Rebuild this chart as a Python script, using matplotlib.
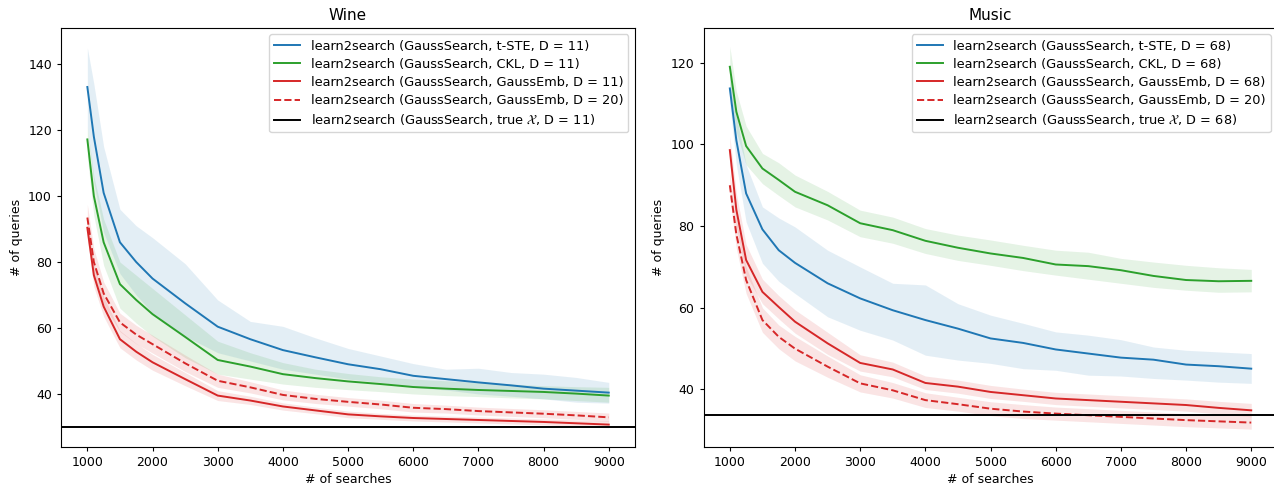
import numpy as np
import matplotlib
matplotlib.use("Agg")
import matplotlib.pyplot as plt

# %% Data
searches = [1000, 1100, 1250, 1500, 1750, 2000, 2500, 3000, 3500, 4000,
            4500, 5000, 5500, 6000, 6500, 7000, 7500, 8000, 8500, 9000]

# Wine, D = 11
wine_tste = [133.1, 118, 101, 86, 80, 75, 67.5, 60.4, 56.6, 53.3,
             51.1, 49.0, 47.5, 45.5, 44.5, 43.5, 42.6, 41.6, 41.0, 40.4]
wine_tste_hi = [145, 134, 115, 96, 91, 87.4, 79.5, 68.5, 62, 60.5,
                57, 53.8, 51.5, 49.2, 47.5, 47.8, 46.5, 46, 45, 43.5]
wine_tste_lo = [121, 104, 89, 76.5, 70, 64.5, 57.5, 52.5, 50, 47.5,
                46, 44.5, 43.5, 42, 41.2, 40, 39.3, 38.5, 37.5, 37.2]

wine_ckl = [117.2, 100, 86, 73.3, 68.5, 64.2, 57.3, 50.3, 48.3, 46.0,
            44.8, 43.8, 43.0, 42.1, 41.6, 41.2, 40.9, 40.6, 40.1, 39.5]
wine_ckl_hi = [121, 106, 93, 80, 76, 72, 64, 56, 52.5, 49.5,
               47.5, 46.2, 45.2, 44.5, 44, 43.5, 43, 42.5, 42.2, 42]
wine_ckl_lo = [112, 94, 79, 66, 61.5, 57.5, 51, 46, 44.5, 43,
               42, 41.3, 40.7, 40, 39.5, 39.2, 38.8, 38.5, 38, 37.5]

wine_gemb = [90.4, 76, 66.5, 56.6, 52.8, 49.6, 44.5, 39.5, 38.0, 36.2,
             35.0, 33.8, 33.2, 32.7, 32.4, 32.1, 31.8, 31.5, 31.1, 30.7]
wine_gemb_hi = [94, 79.5, 69.5, 59.2, 55.3, 52, 46.5, 41, 39.3, 37.3,
                36, 34.8, 34.1, 33.6, 33.3, 33, 32.7, 32.4, 32.1, 31.8]
wine_gemb_lo = [87, 72.5, 63.5, 54, 50.3, 47.2, 42.5, 38, 36.8, 35.1,
                34, 32.8, 32.3, 31.8, 31.5, 31.2, 30.9, 30.6, 30.2, 29.7]

wine_gemb20 = [93.5, 80, 70.5, 61.7, 58, 55.1, 49.3, 44.0, 42.0, 39.7,
               38.5, 37.6, 36.8, 35.8, 35.4, 34.8, 34.4, 34.0, 33.5, 32.9]
wine_gemb20_hi = [97.5, 84, 74, 64.5, 60.8, 57.8, 51.8, 46, 43.7, 41.2,
                  39.9, 38.9, 38.1, 37.1, 36.6, 36, 35.6, 35.2, 34.7, 34.2]
wine_gemb20_lo = [89.5, 76, 67, 58.9, 55.2, 52.4, 46.8, 42, 40.3, 38.2,
                  37.1, 36.3, 35.5, 34.5, 34.2, 33.6, 33.2, 32.8, 32.3, 31.6]

wine_true = 30.0

# Music, D = 68
music_tste = [113.7, 101, 88, 79.2, 74.1, 71.0, 66.0, 62.3, 59.4, 57.0,
              54.9, 52.5, 51.4, 49.8, 48.8, 47.8, 47.3, 46.1, 45.7, 45.1]
music_tste_hi = [117, 107, 95, 84.7, 82, 79.8, 74.1, 70, 66, 65.6,
                 61, 58.2, 56.2, 54.1, 53.3, 52.2, 50.4, 49.6, 49.2, 48.8]
music_tste_lo = [110, 95, 81, 70.9, 66.5, 63.5, 57.8, 54.5, 52.1, 48.4,
                 47.2, 46.4, 45.1, 44.7, 43.5, 43.3, 42.7, 42.3, 41.8, 41.5]

music_ckl = [119, 108, 99.6, 94.1, 91.3, 88.4, 85.1, 80.7, 79.0, 76.4,
             74.7, 73.3, 72.2, 70.6, 70.2, 69.2, 67.8, 66.8, 66.5, 66.6]
music_ckl_hi = [124, 113, 104.5, 97.8, 95.5, 92.5, 88.5, 83.9, 82.2, 79.4,
                77.8, 76.6, 75.3, 74.1, 73.6, 72.1, 71.2, 70.4, 69.8, 69.4]
music_ckl_lo = [114, 103, 95, 90.4, 87.5, 84.7, 81.5, 77.4, 75.8, 73.3,
                71.6, 70.4, 69.1, 68, 67, 66, 65, 64.3, 63.8, 63.9]

music_gemb = [98.6, 84, 71.7, 63.9, 60.2, 56.6, 51.3, 46.5, 44.9, 41.6,
              40.7, 39.4, 38.6, 37.8, 37.4, 37.0, 36.6, 36.2, 35.5, 34.9]
music_gemb_hi = [102, 88, 75.5, 67, 63, 59.5, 54, 48.5, 46.7, 43.3,
                 42.3, 41, 40.1, 39.3, 38.9, 38.5, 38.1, 37.7, 37.1, 36.6]
music_gemb_lo = [95, 80, 68, 61, 57.3, 53.8, 48.6, 44.5, 43.1, 40,
                 39.1, 37.8, 37.1, 36.3, 35.9, 35.5, 35.1, 34.7, 34, 33.3]

music_gemb20 = [90.0, 78, 66.8, 57.0, 52.9, 50.0, 45.6, 41.5, 39.8, 37.4,
                36.4, 35.3, 34.6, 34.1, 33.7, 33.3, 32.9, 32.5, 32.2, 31.9]
music_gemb20_hi = [93, 81.5, 70, 60, 55.8, 53, 48.2, 43.6, 41.7, 39.2,
                   38.1, 37, 36.3, 35.7, 35.3, 34.9, 34.5, 34.1, 33.8, 33.5]
music_gemb20_lo = [87, 74.5, 63.5, 54, 50, 47, 43, 39.4, 37.9, 35.6,
                   34.7, 33.6, 32.9, 32.5, 32.1, 31.7, 31.3, 30.9, 30.6, 30.3]

music_true = 33.7

plt.rcParams['font.size'] = 9
plt.rcParams['xtick.major.size'] = 3.2
plt.rcParams['ytick.major.size'] = 3.2


# %% Plot
def panel(ax, title, dim, series, true_val):
    for (mean, lo, hi, color, ls, lbl) in series:
        ax.fill_between(searches, lo, hi, color=color, alpha=0.12, linewidth=0)
        ax.plot(searches, mean, color=color, linestyle=ls, linewidth=1.4, label=lbl)
    ax.axhline(true_val, color='black', linewidth=1.4,
               label=r'learn2search (GaussSearch, true $\mathcal{X}$, D = %d)' % dim)
    ax.set_title(title, fontsize=11)
    ax.set_xlabel('# of searches', labelpad=3)
    ax.set_ylabel('# of queries')
    ax.set_xticks(range(1000, 9001, 1000))
    ax.legend(loc='upper right', fontsize=9.3, labelspacing=0.4)


fig = plt.figure(figsize=(12.74, 4.84), dpi=100)
ax1 = fig.add_axes([0.0481, 0.0771, 0.4502, 0.8651])
ax2 = fig.add_axes([0.5524, 0.0771, 0.4502, 0.8651])

panel(ax1, 'Wine', 11, [
    (wine_tste, wine_tste_lo, wine_tste_hi, 'tab:blue', '-', 'learn2search (GaussSearch, t-STE, D = 11)'),
    (wine_ckl, wine_ckl_lo, wine_ckl_hi, 'tab:green', '-', 'learn2search (GaussSearch, CKL, D = 11)'),
    (wine_gemb, wine_gemb_lo, wine_gemb_hi, 'tab:red', '-', 'learn2search (GaussSearch, GaussEmb, D = 11)'),
    (wine_gemb20, wine_gemb20_lo, wine_gemb20_hi, 'tab:red', '--', 'learn2search (GaussSearch, GaussEmb, D = 20)'),
], wine_true)

panel(ax2, 'Music', 68, [
    (music_tste, music_tste_lo, music_tste_hi, 'tab:blue', '-', 'learn2search (GaussSearch, t-STE, D = 68)'),
    (music_ckl, music_ckl_lo, music_ckl_hi, 'tab:green', '-', 'learn2search (GaussSearch, CKL, D = 68)'),
    (music_gemb, music_gemb_lo, music_gemb_hi, 'tab:red', '-', 'learn2search (GaussSearch, GaussEmb, D = 68)'),
    (music_gemb20, music_gemb20_lo, music_gemb20_hi, 'tab:red', '--', 'learn2search (GaussSearch, GaussEmb, D = 20)'),
], music_true)

ax1.set_ylim(24, 151)
ax2.set_ylim(26, 128.5)
for ax in (ax1, ax2):
    ax.set_xlim(600, 9400)

fig.savefig('out.png', dpi=100)
